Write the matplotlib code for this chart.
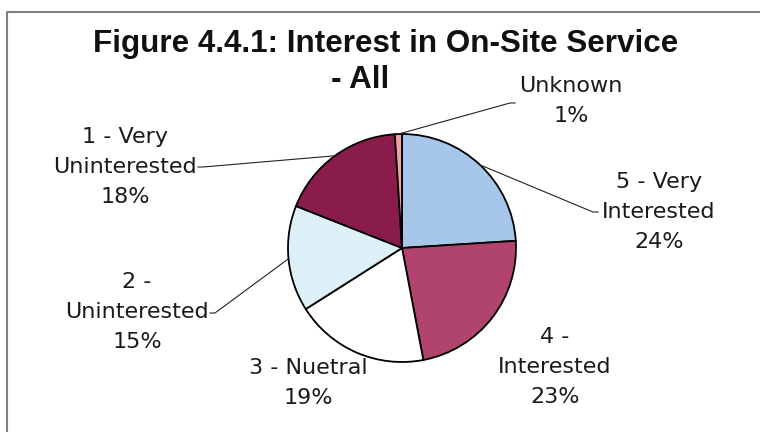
import numpy as np
import matplotlib.pyplot as plt

# survey shares, clockwise from 12 o'clock
categories = ['5 - Very\nInterested', '4 -\nInterested', '3 - Nuetral',
              '2 -\nUninterested', '1 - Very\nUninterested', 'Unknown']
shares = [24, 23, 19, 15, 18, 1]
colors = ['#a6c7ea', '#b0446f', '#ffffff', '#ddf0f7', '#8a1c4c', '#f0a0aa']

W, H = 760, 432

# layout in pixels, y measured from the top edge
pie_center = (402, 248)
pie_radius = 114
label_pos = [(659, 212), (555, 367), (308, 383), (137, 312), (125, 167), (571, 101)]
leader_start = [(598, 212), None, None, (210, 313), (198, 167), (515, 103)]


def px(x, y):
    return x, H - y


fig = plt.figure(figsize=(W / 100, H / 100), dpi=100)
ax = fig.add_axes([0, 0, 1, 1])

wedges, _ = ax.pie(shares, colors=colors, startangle=90, counterclock=False,
                   center=px(*pie_center), radius=pie_radius,
                   wedgeprops=dict(edgecolor='black', linewidth=1.3))

ax.set_xlim(0, W)
ax.set_ylim(0, H)
ax.set_aspect('auto')
ax.axis('off')

cx, cy = px(*pie_center)
for w, cat, share, pos, start in zip(wedges, categories, shares, label_pos, leader_start):
    ax.text(*px(*pos), f'{cat}\n{share}%', ha='center', va='center',
            fontsize=16, family='DejaVu Sans', color='#1a1a1a', linespacing=1.6)
    if start is None:
        continue
    mid = np.deg2rad((w.theta1 + w.theta2) / 2)
    ex, ey = cx + pie_radius * np.cos(mid), cy + pie_radius * np.sin(mid)
    sx, sy = px(*start)
    # short horizontal stub off the text, then straight to the wedge edge
    stub = sx + (5 if ex > sx else -5)
    ax.plot([sx, stub, ex], [sy, sy, ey], color='#222222', lw=0.8)

# title
ax.text(*px(386, 52), 'Figure 4.4.1: Interest in On-Site Service', ha='center',
        va='baseline', fontsize=22.6, fontweight='bold', family='Liberation Sans',
        color='#111111')
ax.text(*px(360, 88), '- All', ha='center', va='baseline', fontsize=22.6,
        fontweight='bold', family='Liberation Sans', color='#111111')

# chart frame (runs off the right and bottom edges)
ax.plot([7, 7, W + 5], [-5, H - 12, H - 12], color='#808080', lw=1.5, clip_on=False)

fig.savefig('out.png', dpi=100)
